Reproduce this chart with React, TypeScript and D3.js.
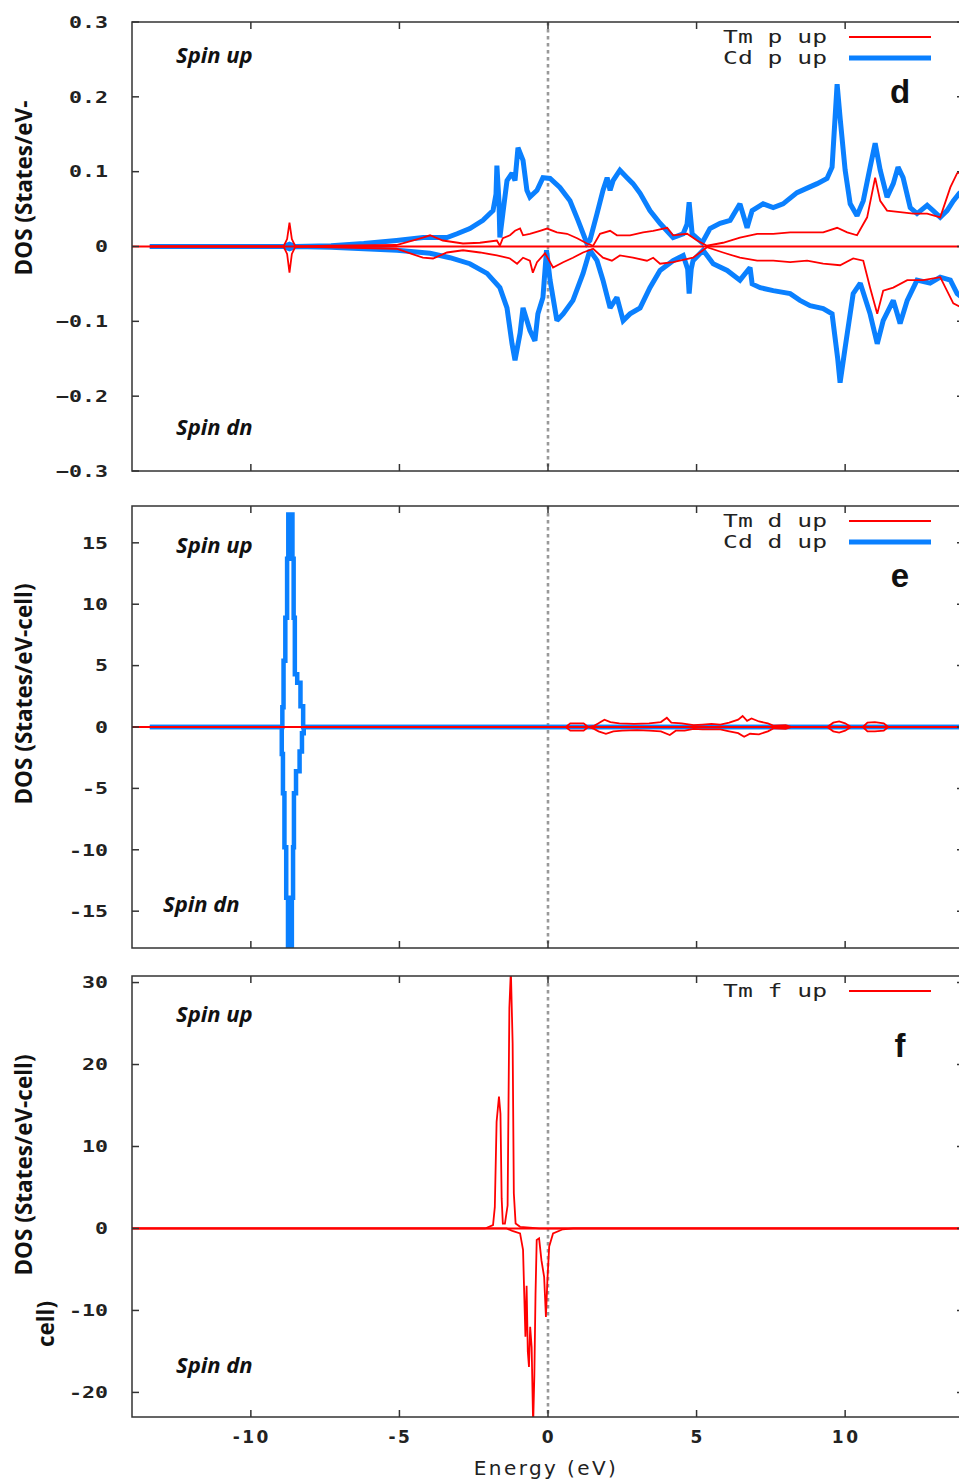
import React from "react";
import * as d3 from "d3";

type Pt = [number, number];

// ---- axis ticks ----
const energyTicks = [-10, -5, 0, 5, 10];
const pTicks = [-0.3, -0.2, -0.1, 0, 0.1, 0.2, 0.3];
const dTicks = [-15, -10, -5, 0, 5, 10, 15];
const fTicks = [-20, -10, 0, 10, 20, 30];

// ---- p-projected DOS (States/eV-cell), [energy eV, DOS] ----
const cdPUp: Pt[] = [
  [-13.4, 0], [-8.9, 0], [-8.7, 0.003], [-8.5, 0], [-7.3, 0.001], [-6.2, 0.004], [-5.1, 0.008],
  [-4.2, 0.012], [-3.4, 0.012], [-3.06, 0.017], [-2.63, 0.024], [-2.19, 0.035], [-1.85, 0.048],
  [-1.75, 0.07], [-1.72, 0.108], [-1.65, 0.06], [-1.62, 0.012], [-1.52, 0.044], [-1.38, 0.088],
  [-1.21, 0.098], [-1.11, 0.088], [-1.01, 0.132], [-0.84, 0.115], [-0.71, 0.075], [-0.61, 0.066],
  [-0.37, 0.075], [-0.17, 0.092], [0.07, 0.091], [0.4, 0.079], [0.74, 0.061], [1.01, 0.035],
  [1.31, 0.004], [1.41, 0.008], [1.65, 0.044], [1.85, 0.075], [1.99, 0.092], [2.09, 0.075],
  [2.19, 0.088], [2.42, 0.102], [2.66, 0.092], [2.86, 0.084], [3.1, 0.071], [3.43, 0.048],
  [3.77, 0.031], [4.21, 0.012], [4.55, 0.017], [4.68, 0.03], [4.75, 0.059], [4.82, 0.03],
  [4.85, 0.017], [5.19, 0.005], [5.45, 0.024], [5.79, 0.031], [6.13, 0.035], [6.46, 0.057],
  [6.7, 0.025], [6.87, 0.048], [7.24, 0.057], [7.58, 0.052], [7.91, 0.057], [8.38, 0.072],
  [8.72, 0.078], [9.06, 0.084], [9.39, 0.091], [9.56, 0.106], [9.73, 0.217], [9.83, 0.172],
  [10.0, 0.102], [10.17, 0.057], [10.4, 0.041], [10.61, 0.061], [10.84, 0.106], [11.01, 0.138],
  [11.18, 0.102], [11.41, 0.066], [11.62, 0.084], [11.78, 0.106], [11.95, 0.092], [12.19, 0.052],
  [12.42, 0.044], [12.76, 0.055], [12.96, 0.048], [13.2, 0.039], [13.43, 0.048], [13.64, 0.061],
  [13.84, 0.071], [14, 0.075],
];

const cdPDn: Pt[] = [
  [-13.4, 0], [-8.9, 0], [-8.7, -0.003], [-8.5, 0], [-7.3, -0.001], [-5.08, -0.005], [-3.97, -0.009],
  [-3.3, -0.015], [-2.63, -0.023], [-2.05, -0.036], [-1.62, -0.055], [-1.38, -0.082], [-1.21, -0.13],
  [-1.11, -0.152], [-0.94, -0.116], [-0.84, -0.082], [-0.61, -0.112], [-0.44, -0.126], [-0.34, -0.09],
  [-0.17, -0.068], [-0.05, -0.005], [0.07, -0.045], [0.3, -0.099], [0.51, -0.09], [0.84, -0.072],
  [1.18, -0.036], [1.41, -0.005], [1.65, -0.019], [1.85, -0.045], [2.09, -0.082], [2.32, -0.068],
  [2.53, -0.099], [2.76, -0.09], [3.1, -0.082], [3.43, -0.055], [3.77, -0.032], [4.21, -0.019],
  [4.55, -0.012], [4.7, -0.03], [4.75, -0.063], [4.82, -0.03], [4.88, -0.019], [5.22, -0.005],
  [5.56, -0.023], [6.03, -0.032], [6.46, -0.045], [6.8, -0.028], [6.87, -0.05], [7.14, -0.055],
  [7.58, -0.059], [8.15, -0.063], [8.48, -0.072], [8.82, -0.079], [9.26, -0.083], [9.56, -0.09],
  [9.75, -0.15], [9.83, -0.182], [10.0, -0.135], [10.27, -0.063], [10.51, -0.049], [10.84, -0.09],
  [11.08, -0.13], [11.28, -0.099], [11.62, -0.072], [11.85, -0.103], [12.09, -0.072], [12.42, -0.045],
  [12.86, -0.049], [13.2, -0.041], [13.54, -0.045], [13.77, -0.063], [14, -0.07],
];

const tmPUp: Pt[] = [
  [-13.4, 0], [-8.9, 0], [-8.78, 0.01], [-8.7, 0.032], [-8.62, 0.01], [-8.5, 0], [-7.3, 0.001],
  [-5.1, 0.002], [-4.21, 0.012], [-3.97, 0.015], [-3.54, 0.008], [-2.86, 0.004], [-2.29, 0.005],
  [-1.72, 0.008], [-1.62, 0.001], [-1.52, 0.011], [-1.28, 0.015], [-1.11, 0.021], [-0.94, 0.024],
  [-0.84, 0.015], [-0.61, 0.017], [-0.27, 0.021], [-0.03, 0.024], [0.3, 0.019], [0.64, 0.017],
  [0.98, 0.011], [1.31, 0.004], [1.52, 0.001], [1.75, 0.017], [2.09, 0.021], [2.32, 0.015],
  [2.76, 0.015], [3.2, 0.019], [3.54, 0.021], [4.01, 0.025], [4.21, 0.015], [4.68, 0.017],
  [5.02, 0.008], [5.35, 0.001], [5.89, 0.005], [6.46, 0.012], [7.04, 0.017], [7.58, 0.017],
  [8.15, 0.019], [8.72, 0.019], [9.26, 0.019], [9.73, 0.025], [10.07, 0.019], [10.4, 0.015],
  [10.74, 0.039], [11.01, 0.092], [11.18, 0.061], [11.41, 0.048], [11.85, 0.046], [12.29, 0.044],
  [12.76, 0.044], [13.2, 0.039], [13.54, 0.079], [13.77, 0.098], [14, 0.1],
];

const tmPDn: Pt[] = [
  [-13.4, 0], [-8.9, 0], [-8.78, -0.01], [-8.7, -0.035], [-8.62, -0.01], [-8.5, 0], [-7.3, -0.001],
  [-5.1, -0.003], [-4.21, -0.015], [-3.87, -0.016], [-3.4, -0.008], [-2.86, -0.005], [-2.29, -0.008],
  [-1.72, -0.012], [-1.28, -0.016], [-1.04, -0.023], [-0.84, -0.015], [-0.61, -0.019], [-0.51, -0.035],
  [-0.37, -0.021], [-0.1, -0.009], [0.17, -0.028], [0.51, -0.021], [0.84, -0.015], [1.18, -0.008],
  [1.52, -0.003], [1.85, -0.015], [2.15, -0.019], [2.42, -0.012], [2.86, -0.015], [3.33, -0.019],
  [3.54, -0.015], [3.77, -0.023], [4.21, -0.021], [4.88, -0.015], [5.35, -0.001], [5.89, -0.008],
  [6.46, -0.015], [7.04, -0.019], [7.58, -0.019], [8.15, -0.021], [8.72, -0.019], [9.26, -0.023],
  [9.83, -0.025], [10.27, -0.016], [10.61, -0.019], [10.84, -0.055], [11.08, -0.09], [11.28, -0.059],
  [11.62, -0.055], [12.09, -0.045], [12.63, -0.045], [13.2, -0.041], [13.64, -0.076], [14, -0.083],
];

// ---- d-projected DOS (Cd d drawn as steps: value holds until the next energy) ----
const cdDUp: Pt[] = [
  [-13.4, 0], [-8.94, 1.6], [-8.9, 5.4], [-8.84, 8.9], [-8.78, 13.7], [-8.74, 17.3], [-8.6, 13.7],
  [-8.56, 8.9], [-8.52, 4.3], [-8.44, 3.6], [-8.33, 1.7], [-8.24, 0], [14, 0],
];

const cdDDn: Pt[] = [
  [-13.4, 0], [-8.96, -2.2], [-8.92, -5.4], [-8.87, -9.8], [-8.81, -13.9], [-8.75, -17.9],
  [-8.62, -13.9], [-8.58, -9.8], [-8.55, -5.4], [-8.48, -3.6], [-8.36, -2.0], [-8.28, -0.5],
  [-8.22, 0], [14, 0],
];

const tmDUp: Pt[] = [
  [-13.4, 0], [0.6, 0], [0.75, 0.3], [1.2, 0.3], [1.35, 0], [1.55, 0.1], [1.7, 0.3], [1.9, 0.6],
  [2.1, 0.4], [2.4, 0.3], [2.9, 0.25], [3.4, 0.3], [3.8, 0.4], [4.0, 0.75], [4.15, 0.35], [4.5, 0.3],
  [4.9, 0.15], [5.2, 0.2], [5.5, 0.25], [5.8, 0.2], [6.1, 0.35], [6.4, 0.6], [6.55, 0.9], [6.7, 0.5],
  [6.85, 0.7], [7.1, 0.45], [7.4, 0.3], [7.6, 0.1], [8.0, 0.15], [8.2, 0], [9.4, 0], [9.6, 0.35],
  [9.8, 0.45], [10.0, 0.3], [10.2, 0], [10.6, 0], [10.75, 0.35], [11.0, 0.4], [11.3, 0.3],
  [11.45, 0], [14, 0],
];

const tmDDn: Pt[] = [
  [-13.4, 0], [0.6, 0], [0.75, -0.3], [1.2, -0.3], [1.35, 0], [1.55, -0.15], [1.7, -0.35],
  [1.95, -0.55], [2.2, -0.35], [2.5, -0.3], [3.0, -0.25], [3.4, -0.3], [3.8, -0.35], [4.1, -0.65],
  [4.3, -0.3], [4.6, -0.3], [4.9, -0.15], [5.2, -0.2], [5.5, -0.2], [5.8, -0.2], [6.1, -0.35],
  [6.4, -0.5], [6.6, -0.8], [6.8, -0.55], [7.1, -0.6], [7.4, -0.35], [7.6, -0.1], [8.0, -0.15],
  [8.2, 0], [9.4, 0], [9.6, -0.35], [9.8, -0.45], [10.0, -0.3], [10.2, 0], [10.6, 0],
  [10.75, -0.35], [11.0, -0.35], [11.3, -0.3], [11.45, 0], [14, 0],
];

// ---- f-projected DOS ----
const tmFUp: Pt[] = [
  [-14, 0], [-2.12, 0], [-1.85, 0.4], [-1.79, 2.6], [-1.73, 13.0], [-1.65, 16.1], [-1.6, 14.0],
  [-1.56, 3.7], [-1.52, 0.6], [-1.45, 0.6], [-1.36, 2.8], [-1.34, 10.8], [-1.3, 26.9], [-1.25, 31.5],
  [-1.19, 22.6], [-1.15, 4.3], [-1.09, 0.6], [-0.94, 0.2], [-0.3, 0], [14, 0],
];

const tmFDn: Pt[] = [
  [-14, 0], [-1.39, 0], [-1.2, -0.3], [-0.94, -0.6], [-0.84, -2.6], [-0.8, -8.0], [-0.76, -13.2],
  [-0.72, -7.0], [-0.68, -15.0], [-0.64, -16.9], [-0.6, -12.0], [-0.55, -14.5], [-0.5, -24.0],
  [-0.46, -18.0], [-0.42, -8.0], [-0.38, -1.4], [-0.3, -1.2], [-0.22, -3.9], [-0.13, -5.9],
  [-0.07, -10.8], [-0.02, -6.3], [0.04, -2.2], [0.17, -0.6], [0.5, -0.1], [0.85, 0], [14, 0],
];

const RED = "#ff0000";
const BLUE = "#0a80ff";
const FRAME = "#333333";
const MONO = "'DejaVu Sans Mono', monospace";

const PLOT_LEFT = 132;
const PLOT_RIGHT = 964;
const x = d3.scaleLinear().domain([-14, 14]).range([PLOT_LEFT, PLOT_RIGHT]);

interface Series { data: Pt[]; color: string; width: number; steps?: boolean }
interface PanelCfg {
  id: string;
  top: number;
  bottom: number;
  domain: [number, number];
  ticks: number[];
  fmt: (v: number) => string;
  series: Series[];
  legend: { label: string; color: string; width: number }[];
  letter: string;
  spinUpX: number;
  spinUpY: number;
  spinDnX: number;
  spinDnY: number;
  yLabel: { text: string; x: number; y: number }[];
  showEnergy: boolean;
}

const fmtP = (v: number) => (v === 0 ? "0" : d3.format(".1f")(v));
const fmtInt = (v: number) => String(v);

const panels: PanelCfg[] = [
  {
    id: "p", top: 22, bottom: 471, domain: [-0.3, 0.3], ticks: pTicks, fmt: fmtP,
    series: [
      { data: cdPUp, color: BLUE, width: 5 },
      { data: cdPDn, color: BLUE, width: 5 },
      { data: tmPUp, color: RED, width: 1.8 },
      { data: tmPDn, color: RED, width: 1.8 },
    ],
    legend: [
      { label: "Tm p up", color: RED, width: 2 },
      { label: "Cd p up", color: BLUE, width: 5 },
    ],
    letter: "d", spinUpX: 176, spinUpY: 63, spinDnX: 176, spinDnY: 435,
    yLabel: [{ text: "DOS (States/eV-", x: 32, y: 188 }],
    showEnergy: false,
  },
  {
    id: "d", top: 506, bottom: 948, domain: [-18, 18], ticks: dTicks, fmt: fmtInt,
    series: [
      { data: cdDUp, color: BLUE, width: 4.5, steps: true },
      { data: cdDDn, color: BLUE, width: 4.5, steps: true },
      { data: tmDUp, color: RED, width: 1.8 },
      { data: tmDDn, color: RED, width: 1.8 },
    ],
    legend: [
      { label: "Tm d up", color: RED, width: 2 },
      { label: "Cd d up", color: BLUE, width: 5 },
    ],
    letter: "e", spinUpX: 176, spinUpY: 553, spinDnX: 163, spinDnY: 912,
    yLabel: [{ text: "DOS (States/eV-cell)", x: 32, y: 694 }],
    showEnergy: false,
  },
  {
    id: "f", top: 976, bottom: 1417, domain: [-23, 30.8], ticks: fTicks, fmt: fmtInt,
    series: [
      { data: tmFUp, color: RED, width: 1.8 },
      { data: tmFDn, color: RED, width: 1.8 },
    ],
    legend: [{ label: "Tm f up", color: RED, width: 2 }],
    letter: "f", spinUpX: 176, spinUpY: 1022, spinDnX: 176, spinDnY: 1373,
    yLabel: [
      { text: "DOS (States/eV-cell)", x: 32, y: 1165 },
      { text: "cell)", x: 54, y: 1324 },
    ],
    showEnergy: true,
  },
];

function Panel({ cfg }: { cfg: PanelCfg }) {
  const y = d3.scaleLinear().domain(cfg.domain).range([cfg.bottom, cfg.top]);
  const line = d3.line<Pt>().x((d) => x(d[0])).y((d) => y(d[1]));
  const stepLine = d3.line<Pt>().x((d) => x(d[0])).y((d) => y(d[1])).curve(d3.curveStepAfter);
  const clipId = `clip-${cfg.id}`;
  const y0 = y(0);

  return (
    <g>
      <defs>
        <clipPath id={clipId}>
          <rect x={PLOT_LEFT} y={cfg.top} width={PLOT_RIGHT - PLOT_LEFT} height={cfg.bottom - cfg.top} />
        </clipPath>
      </defs>

      {/* Fermi level */}
      <line x1={x(0)} x2={x(0)} y1={cfg.top} y2={cfg.bottom} stroke="#999" strokeWidth={2.6}
        strokeDasharray="3.5,3.5" />

      <g clipPath={`url(#${clipId})`}>
        {cfg.series.map((s, i) => (
          <path key={i} d={(s.steps ? stepLine : line)(s.data) ?? ""} fill="none" stroke={s.color}
            strokeWidth={s.width} strokeLinejoin="miter" strokeMiterlimit={2} />
        ))}
        <line x1={PLOT_LEFT} x2={PLOT_RIGHT} y1={y0} y2={y0} stroke={RED} strokeWidth={2} />
      </g>

      {/* frame */}
      <rect x={PLOT_LEFT} y={cfg.top} width={PLOT_RIGHT - PLOT_LEFT} height={cfg.bottom - cfg.top}
        fill="none" stroke={FRAME} strokeWidth={1.5} />

      {/* energy ticks, top and bottom */}
      {energyTicks.map((e) => (
        <g key={e}>
          <line x1={x(e)} x2={x(e)} y1={cfg.top} y2={cfg.top + 7} stroke={FRAME} strokeWidth={1.5} />
          <line x1={x(e)} x2={x(e)} y1={cfg.bottom} y2={cfg.bottom - 7} stroke={FRAME} strokeWidth={1.5} />
        </g>
      ))}

      {/* DOS ticks */}
      {cfg.ticks.map((t) => (
        <g key={t}>
          <line x1={PLOT_LEFT} x2={PLOT_LEFT + 7} y1={y(t)} y2={y(t)} stroke={FRAME} strokeWidth={1.5} />
          <line x1={PLOT_RIGHT} x2={PLOT_RIGHT - 7} y1={y(t)} y2={y(t)} stroke={FRAME} strokeWidth={1.5} />
          <text transform={`translate(108,${y(t)}) scale(1.35,1)`} dy="0.36em" textAnchor="end"
            fontFamily={MONO} fontWeight="bold" fontSize={16} fill="#222">{cfg.fmt(t)}</text>
        </g>
      ))}

      {/* legend */}
      {cfg.legend.map((l, i) => {
        const ly = cfg.top + 15 + i * 21;
        return (
          <g key={l.label}>
            <text transform={`translate(827,${ly}) scale(1.37,1)`} dy="0.36em" textAnchor="end"
              fontFamily={MONO} fontSize={18} fill="#222">{l.label}</text>
            <line x1={849} x2={931} y1={ly} y2={ly} stroke={l.color} strokeWidth={l.width} />
          </g>
        );
      })}

      <text x={900} y={cfg.top + 81} textAnchor="middle" fontFamily="'Liberation Sans', Arial, sans-serif"
        fontWeight="bold" fontSize={33} fill="#111">{cfg.letter}</text>

      <text x={cfg.spinUpX} y={cfg.spinUpY} fontFamily="'Open Sans', sans-serif" fontWeight="bold"
        fontStyle="italic" fontSize={22} fill="#111">Spin up</text>
      <text x={cfg.spinDnX} y={cfg.spinDnY} fontFamily="'Open Sans', sans-serif" fontWeight="bold"
        fontStyle="italic" fontSize={22} fill="#111">Spin dn</text>

      {cfg.yLabel.map((l) => (
        <text key={l.text} transform={`translate(${l.x},${l.y}) rotate(-90)`} textAnchor="middle"
          fontFamily="'Open Sans', sans-serif" fontWeight="bold" fontSize={22.5} fill="#111">{l.text}</text>
      ))}

      {cfg.showEnergy && (
        <g>
          {energyTicks.map((e) => (
            <text key={e} x={x(e) + 1} y={cfg.bottom + 20} dy="0.36em" textAnchor="middle"
              fontFamily="'DejaVu Sans', sans-serif" fontWeight="bold" fontSize={17} letterSpacing={2.5}
              fill="#222">
              {String(e)}
            </text>
          ))}
          <text x={546} y={cfg.bottom + 51} dy="0.36em" textAnchor="middle"
            fontFamily="'DejaVu Sans', sans-serif" fontSize={20} letterSpacing={2.4} fill="#222">
            Energy (eV)
          </text>
        </g>
      )}
    </g>
  );
}

export default function App() {
  return (
    <svg width={959} height={1481} viewBox="0 0 959 1481"
      style={{ position: "absolute", left: 0, top: 0, display: "block", background: "#fff" }}>
      <rect width={959} height={1481} fill="#fff" />
      {panels.map((p) => <Panel key={p.id} cfg={p} />)}
    </svg>
  );
}
